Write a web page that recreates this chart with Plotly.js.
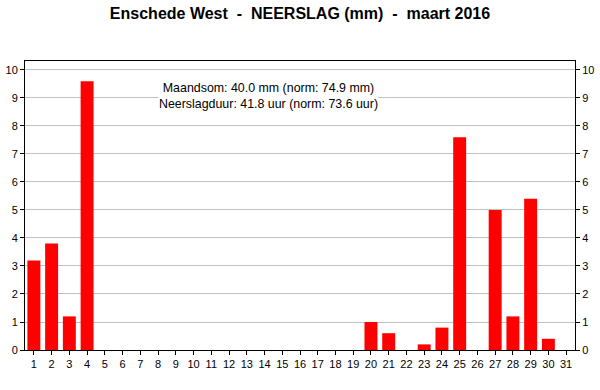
<!DOCTYPE html>
<html><head><meta charset="utf-8">
<script src="https://cdn.plot.ly/plotly-3.0.1.min.js"></script>
<style>body{margin:0;background:#fff}#c{width:600px;height:390px}</style>
</head><body><div id="c"></div>
<script>
const days = Array.from({length:31},(_,i)=>i+1);
const rain = [3.2,3.8,1.2,9.6,0,0,0,0,0,0,0,0,0,0,0,0,0,0,0,1.0,0.6,0,0.2,0.8,7.6,0,5.0,1.2,5.4,0.4,0];
const titleText = "Enschede West  -  NEERSLAG (mm)  -  maart 2016";
const noteText = "Maandsom: 40.0 mm (norm: 74.9 mm)<br>Neerslagduur: 41.8 uur (norm: 73.6 uur)";
const yTicks = [0,1,2,3,4,5,6,7,8,9,10];
const font = {family:"Liberation Sans, Arial, sans-serif", size:11, color:"#000"};
const yax = {range:[0,10.32], tickvals:yTicks, ticks:"outside", ticklen:4, tickcolor:"#000",
  showline:true, linecolor:"#000", linewidth:1, showgrid:true, gridcolor:"#c0c0c0", zeroline:false,
  tickfont:font, fixedrange:true};
Plotly.newPlot("c",[
 {type:"bar", x:days, y:rain, marker:{color:"#ff0000", line:{width:0}}, width:0.73, hoverinfo:"none"},
 {type:"scatter", x:days, y:rain, yaxis:"y2", mode:"none", showlegend:false, hoverinfo:"none"}
],{
 width:600, height:390, margin:{l:25,r:25,t:61,b:40},
 paper_bgcolor:"#fff", plot_bgcolor:"#fff", showlegend:false,
 title:{text:"<b>"+titleText+"</b>", x:0.5, xanchor:"center", y:0.965, yanchor:"middle",
   font:{family:"Liberation Sans, Arial, sans-serif", size:16, color:"#000"}},
 xaxis:{range:[0.5,31.5], tickvals:days, ticks:"outside", ticklen:4, tickcolor:"#000",
   showline:true, linecolor:"#000", linewidth:1, mirror:true, showgrid:false, zeroline:false,
   tickfont:font, fixedrange:true},
 yaxis:Object.assign({}, yax, {side:"left"}),
 yaxis2:Object.assign({}, yax, {side:"right", overlaying:"y", showgrid:false}),
 annotations:[{text:noteText, xref:"x", yref:"y", x:14.2, y:9.07, xanchor:"center", yanchor:"middle",
   showarrow:false, align:"center", bgcolor:"#fff", borderpad:0,
   font:{family:"Liberation Sans, Arial, sans-serif", size:12.4, color:"#000"}}]
},{staticPlot:true});
</script></body></html>
